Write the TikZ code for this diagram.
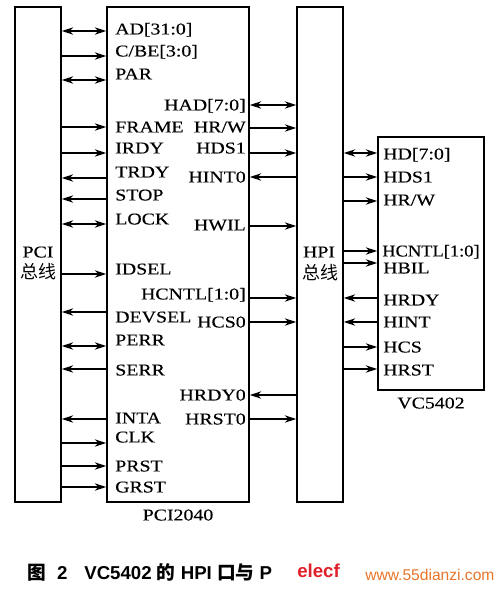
\documentclass[tikz,border=0pt]{standalone}
\usepackage{fontspec}
\setmainfont{Liberation Serif}[FakeStretch=1.2,FakeBold=0.3]
\newfontfamily\cjk{Noto Sans CJK SC}
\newfontfamily\capfont{Liberation Sans}
\usetikzlibrary{arrows.meta,fit}
\definecolor{wmorange}{HTML}{E8742A}
\definecolor{wmred}{HTML}{E0202A}
\begin{document}
\begin{tikzpicture}[x=0.75pt,y=-0.75pt,
  box/.style={draw,line width=1.3pt,inner sep=0pt},
  sig/.style={line width=1.1pt},
  tipR/.style={sig,-{Stealth[length=8.5pt,width=5.5pt]}},
  tipL/.style={sig,{Stealth[length=8.5pt,width=5.5pt]}-},
  tipB/.style={sig,{Stealth[length=8.5pt,width=5.5pt]}-{Stealth[length=8.5pt,width=5.5pt]}},
  lab/.style={inner sep=0pt,text height=8.2pt,text depth=0pt,font=\fontsize{12.4pt}{14pt}\selectfont},
  labL/.style={lab,anchor=west},
  labR/.style={lab,anchor=east},
  cjklab/.style={inner sep=0pt,font=\cjk\fontsize{13.5pt}{15pt}\selectfont},
]
\useasboundingbox (0,0) rectangle (500,592);
% boxes
\node[box,fit={(15,7)(61,502)}] (pcibus) {};
\node[box,fit={(107,7)(249,502)}] (pci) {};
\node[box,fit={(297,7)(343,502)}] (hpibus) {};
\node[box,fit={(378,137)(484,390)}] (vc) {};
% bus labels
\node[lab] (pcit) at (38,252) {PCI};
\node[cjklab] (pcic) at (38,272) {总线};
\node[lab] (hpit) at (319,252) {HPI};
\node[cjklab] (hpic) at (320,273) {总线};
\node[lab] (pcin) at (178,515) {PCI2040};
\node[lab] (vcn) at (431,403) {VC5402};
% connectors PCI bus <-> PCI2040
\foreach \yy/\st in {31/tipB,56/tipR,80/tipB,127/tipR,153/tipR,178/tipL,199/tipL,224/tipB,274/tipR,312/tipL,346/tipB,369/tipL,419/tipL,443/tipR,466/tipR,487/tipR}{
  \coordinate (t) at (0,\yy);
  \draw[\st] (pcibus.east |- t) -- (pci.west |- t);
}
% connectors PCI2040 <-> HPI bus
\foreach \yy/\st in {105/tipB,128/tipR,153/tipR,177/tipL,226/tipR,298/tipR,322/tipR,395/tipL,419/tipR}{
  \coordinate (t) at (0,\yy);
  \draw[\st] (pci.east |- t) -- (hpibus.west |- t);
}
% connectors HPI bus <-> VC5402
\foreach \yy/\st in {153/tipB,177/tipR,201/tipR,251/tipR,263/tipR,298/tipL,322/tipL,347/tipR,369/tipR}{
  \coordinate (t) at (0,\yy);
  \draw[\st] (hpibus.east |- t) -- (vc.west |- t);
}
% PCI2040 left labels
\node[labL] (l1) at (115,29) {AD[31:0]};
\node[labL] (l2) at (115,51) {C/BE[3:0]};
\node[labL] (l3) at (115,74) {PAR};
\node[labL] (l4) at (115,127) {FRAME};
\node[labL] (l5) at (115,148) {IRDY};
\node[labL] (l6) at (115,172) {TRDY};
\node[labL] (l7) at (115,195) {STOP};
\node[labL] (l8) at (115,219) {LOCK};
\node[labL] (l9) at (115,269) {IDSEL};
\node[labL] (l10) at (115,317) {DEVSEL};
\node[labL] (l11) at (115,340) {PERR};
\node[labL] (l12) at (115,370) {SERR};
\node[labL] (l13) at (115,418) {INTA};
\node[labL] (l14) at (115,437) {CLK};
\node[labL] (l15) at (115,466) {PRST};
\node[labL] (l16) at (115,487) {GRST};
% PCI2040 right labels
\node[labR] (r1) at (246,105) {HAD[7:0]};
\node[labR] (r2) at (246,127) {HR/W};
\node[labR] (r3) at (246,148) {HDS1};
\node[labR] (r4) at (246,177) {HINT0};
\node[labR] (r5) at (246,225) {HWIL};
\node[labR] (r6) at (246,294) {HCNTL[1:0]};
\node[labR] (r7) at (246,322) {HCS0};
\node[labR] (r8) at (246,395) {HRDY0};
\node[labR] (r9) at (246,419) {HRST0};
% VC5402 labels
\node[labL] (v1) at (383,154) {HD[7:0]};
\node[labL] (v2) at (383,177) {HDS1};
\node[labL] (v3) at (383,200) {HR/W};
\node[labL] (v4) at (382,251) {\scalebox{0.93}[1]{HCNTL[1:0]}};
\node[labL] (v5) at (383,268) {HBIL};
\node[labL] (v6) at (383,300) {HRDY};
\node[labL] (v7) at (383,322) {HINT};
\node[labL] (v8) at (383,347) {HCS};
\node[labL] (v9) at (383,370) {HRST};
% caption and watermark
\node[anchor=west,inner sep=0pt,font=\capfont\bfseries\fontsize{14pt}{16pt}\selectfont] (cap) at (27,572)
  {{\cjk\bfseries 图}\hspace{0.6em}2\hspace{0.9em}VC5402 {\cjk\bfseries 的} HPI {\cjk\bfseries 口与} P};
\node[anchor=west,inner sep=0pt,text=wmred,font=\capfont\bfseries\fontsize{14pt}{16pt}\selectfont] (wm1) at (297,571) {elecf};
\node[anchor=west,inner sep=0pt,text=wmorange,font=\capfont\fontsize{11.7pt}{14pt}\selectfont] (wm2) at (365,575) {www.55dianzi.com};
\end{tikzpicture}
\end{document}
